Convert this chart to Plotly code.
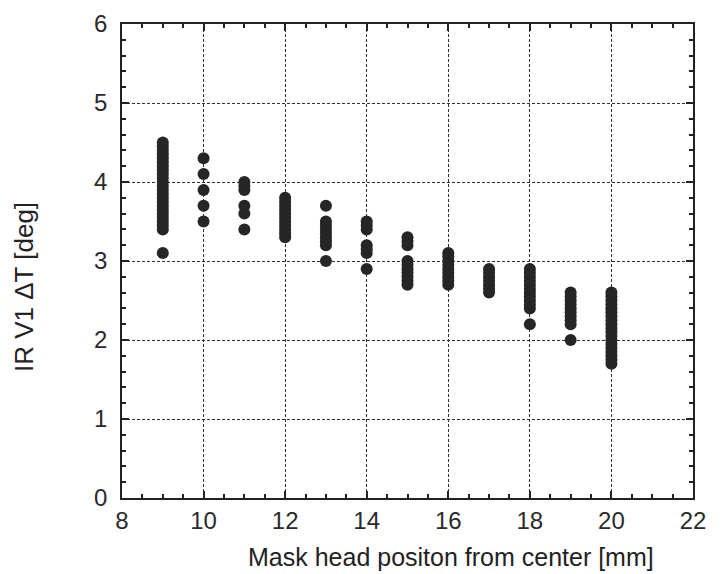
import plotly.graph_objects as go

# Data (mask head position [mm] -> IR V1 dT [deg])
pos_9 = [3.1, 3.4, 3.45, 3.5, 3.55, 3.6, 3.65, 3.7, 3.75, 3.8, 3.85, 3.9, 3.95,
         4.0, 4.05, 4.1, 4.15, 4.2, 4.25, 4.3, 4.35, 4.4, 4.45, 4.5]
pos_10 = [3.5, 3.7, 3.9, 4.1, 4.3]
pos_11 = [3.4, 3.6, 3.7, 3.9, 3.95, 4.0]
pos_12 = [3.3, 3.35, 3.4, 3.45, 3.5, 3.55, 3.6, 3.65, 3.7, 3.75, 3.8]
pos_13 = [3.0, 3.2, 3.25, 3.3, 3.35, 3.4, 3.45, 3.5, 3.7]
pos_14 = [2.9, 3.1, 3.15, 3.2, 3.4, 3.45, 3.5]
pos_15 = [2.7, 2.75, 2.8, 2.85, 2.9, 2.95, 3.0, 3.2, 3.25, 3.3]
pos_16 = [2.7, 2.75, 2.8, 2.85, 2.9, 2.95, 3.0, 3.05, 3.1]
pos_17 = [2.6, 2.65, 2.7, 2.75, 2.8, 2.85, 2.9]
pos_18 = [2.2, 2.4, 2.45, 2.5, 2.55, 2.6, 2.65, 2.7, 2.75, 2.8, 2.85, 2.9]
pos_19 = [2.0, 2.2, 2.25, 2.3, 2.35, 2.4, 2.45, 2.5, 2.55, 2.6]
pos_20 = [1.7, 1.75, 1.8, 1.85, 1.9, 1.95, 2.0, 2.05, 2.1, 2.15, 2.2, 2.25,
          2.3, 2.35, 2.4, 2.45, 2.5, 2.55, 2.6]

positions = [9, 10, 11, 12, 13, 14, 15, 16, 17, 18, 19, 20]
groups = [pos_9, pos_10, pos_11, pos_12, pos_13, pos_14, pos_15, pos_16,
          pos_17, pos_18, pos_19, pos_20]

x_title = "Mask head positon from center [mm]"
y_title = "IR V1 ΔT [deg]"

xs, ys = [], []
for p, vals in zip(positions, groups):
    for v in vals:
        xs.append(p)
        ys.append(v)

fig = go.Figure()
fig.add_trace(go.Scatter(
    x=xs, y=ys, mode="markers",
    marker=dict(size=12, color="#262626", line=dict(width=0)),
    showlegend=False,
))

font_fam = "Liberation Sans, Arial, sans-serif"
axis_common = dict(
    showline=True, linecolor="#222", linewidth=1.5, mirror="ticks",
    showgrid=True, gridcolor="#333", gridwidth=1.2, griddash="3px,2px",
    ticks="inside", ticklen=7, tickwidth=1.5, tickcolor="#222",
    zeroline=False, automargin=False,
    tickfont=dict(family=font_fam, size=24, color="#2a2a2a"),
)

fig.update_xaxes(
    range=[8, 22], dtick=2, tick0=8,
    minor=dict(dtick=0.5, ticks="inside", ticklen=4, tickcolor="#222", showgrid=False),
    **axis_common,
)
fig.update_yaxes(
    range=[0, 6], dtick=1, tick0=0,
    minor=dict(dtick=0.2, ticks="inside", ticklen=4, tickcolor="#222", showgrid=False),
    ticklabelstandoff=8,
    **axis_common,
)

# page body has an 8px margin, so figure coords = screen coords - 8
W, H = 717, 566
L, R, T, B = 114, 32, 16, 76
pw, ph = W - L - R, H - T - B

fig.add_annotation(
    text=x_title, xref="paper", yref="paper",
    x=(443 - L) / pw, y=-(549 - (T + ph)) / ph,
    xanchor="center", yanchor="middle", showarrow=False,
    font=dict(family=font_fam, size=25, color="#222"),
)
fig.add_annotation(
    text=y_title, xref="paper", yref="paper",
    x=-(L - 16) / pw, y=1 - (279 - T) / ph,
    xanchor="center", yanchor="middle", showarrow=False, textangle=-90,
    font=dict(family=font_fam, size=26, color="#222"),
)

fig.update_layout(
    width=W, height=H,
    margin=dict(l=L, r=R, t=T, b=B),
    paper_bgcolor="white", plot_bgcolor="white",
)

fig.write_html("out.html")
